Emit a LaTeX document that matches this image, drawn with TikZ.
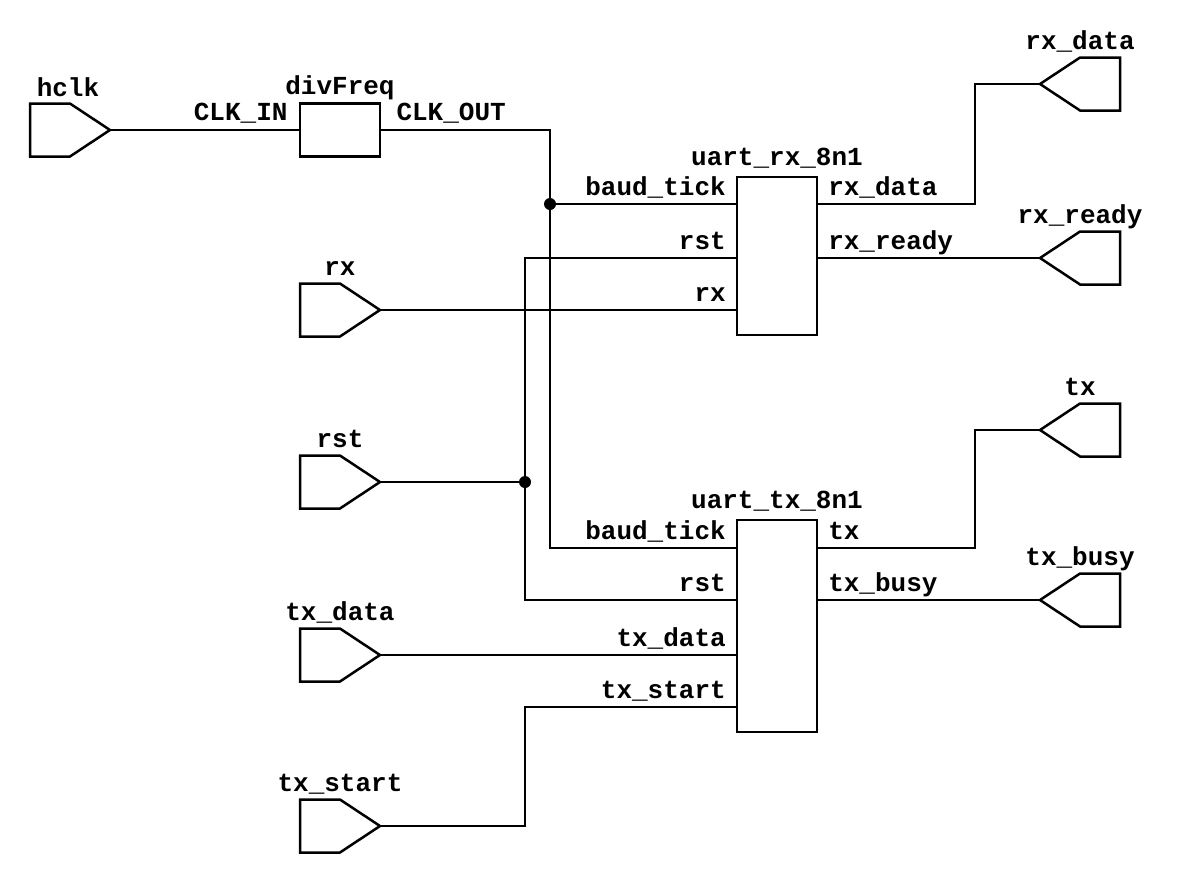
\documentclass[tikz,border=0pt]{standalone}
\usepackage{fontspec}
\setmonofont{Liberation Mono}
\usetikzlibrary{shapes.symbols,positioning}

\begin{document}
\begin{tikzpicture}[
  x=0.5pt, y=-0.5pt,
  font=\ttfamily\bfseries\fontsize{13}{15}\selectfont,
  line width=1.25pt,
  inport/.style={signal,signal to=east,draw,minimum width=40pt,minimum height=26.5pt,
    signal pointer angle=67,inner sep=0pt,outer sep=0pt,anchor=east},
  outport/.style={inport,signal to=west,anchor=west},
  block/.style={draw,minimum width=40pt,inner sep=0pt},
  pinl/.style={inner sep=0pt,anchor=base east},
  pinr/.style={inner sep=0pt,anchor=base west},
  title/.style={inner sep=0pt,anchor=base},
  dot/.style={circle,fill,inner sep=0pt,minimum size=6pt}
]
\useasboundingbox (0,0) rectangle (1200,885);

% input ports
\node[inport] (hclk) at (110,130) {};
\node[inport] (rx) at (380,310) {};
\node[inport] (rst) at (380,482) {};
\node[inport] (txdata) at (380,655) {};
\node[inport] (txstart) at (380,826) {};
\node[title] at ([shift={(9pt,3.5pt)}]hclk.north) {hclk};
\node[title] at ([shift={(10pt,4pt)}]rx.north) {rx};
\node[title] at ([shift={(10pt,4pt)}]rst.north) {rst};
\node[title] at ([shift={(10pt,4pt)}]txdata.north) {tx\_data};
\node[title] at ([shift={(10pt,4pt)}]txstart.north) {tx\_start};

% output ports
\node[outport] (orxdata) at (1040,84) {};
\node[outport] (orxready) at (1040,258) {};
\node[outport] (otx) at (1040,430) {};
\node[outport] (otxbusy) at (1040,600) {};
\node[title] at ([shift={(-10pt,4pt)}]orxdata.north) {rx\_data};
\node[title] at ([shift={(-10pt,4pt)}]orxready.north) {rx\_ready};
\node[title] at ([shift={(-10pt,4pt)}]otx.north) {tx};
\node[title] at ([shift={(-10pt,4pt)}]otxbusy.north) {tx\_busy};

% blocks
\node[block,minimum height=26.5pt] (div) at (340,130) {};
\node[block,minimum height=79pt] (urx) at (777,256) {};
\node[block,minimum height=106pt] (utx) at (777,626) {};
\node[title] at ([yshift=4pt]div.north) {divFreq};
\node[title] at ([yshift=5pt]urx.north) {uart\_rx\_8n1};
\node[title] at ([yshift=5pt]utx.north) {uart\_tx\_8n1};

% pins
\coordinate (div_in) at (div.west);
\coordinate (div_out) at (div.east);
\coordinate (rx_bt) at (737,204);
\coordinate (rx_rst) at (737,258);
\coordinate (rx_rx) at (737,310);
\coordinate (rx_data) at (817,204);
\coordinate (rx_ready) at (817,258);
\coordinate (tx_bt) at (737,548);
\coordinate (tx_rst) at (737,600);
\coordinate (tx_data) at (737,655);
\coordinate (tx_start) at (737,707);
\coordinate (tx_tx) at (817,548);
\coordinate (tx_busy) at (817,600);

\node[pinl] at ([shift={(-5pt,5pt)}]div_in) {CLK\_IN};
\node[pinr] at ([shift={(7pt,5pt)}]div_out) {CLK\_OUT};
\node[pinl] at ([shift={(-5pt,4.5pt)}]rx_bt) {baud\_tick};
\node[pinl] at ([shift={(-5pt,4.5pt)}]rx_rst) {rst};
\node[pinl] at ([shift={(-5pt,4.5pt)}]rx_rx) {rx};
\node[pinr] at ([shift={(5pt,4.5pt)}]rx_data) {rx\_data};
\node[pinr] at ([shift={(5pt,4.5pt)}]rx_ready) {rx\_ready};
\node[pinl] at ([shift={(-5pt,4.5pt)}]tx_bt) {baud\_tick};
\node[pinl] at ([shift={(-5pt,4.5pt)}]tx_rst) {rst};
\node[pinl] at ([shift={(-5pt,4.5pt)}]tx_data) {tx\_data};
\node[pinl] at ([shift={(-5pt,4.5pt)}]tx_start) {tx\_start};
\node[pinr] at ([shift={(5pt,4.5pt)}]tx_tx) {tx};
\node[pinr] at ([shift={(5pt,4.5pt)}]tx_busy) {tx\_busy};

% junctions and bends
\coordinate (clkj) at (550,204);
\coordinate (rstj) at (525,482);
\coordinate (outx) at (975,0);

% wires
\draw (hclk.east) -- (div_in);
\draw (div_out) -| (clkj) -- (clkj |- tx_bt) -- (tx_bt);
\draw (clkj) -- (rx_bt);
\draw (rx.east) -- (rx_rx);
\draw (rst.east) -- (rstj);
\draw (rx_rst) -| (rstj |- tx_rst) -- (tx_rst);
\draw (txdata.east) -- (tx_data);
\draw (txstart.east) -| (rstj |- tx_start) -- (tx_start);
\draw (rx_data) -- (rx_data -| outx) |- (orxdata.west);
\draw (rx_ready) -- (orxready.west);
\draw (tx_tx) -- (tx_tx -| outx) |- (otx.west);
\draw (tx_busy) -- (otxbusy.west);

\node[dot] at (clkj) {};
\node[dot] at (rstj) {};
\end{tikzpicture}
\end{document}
